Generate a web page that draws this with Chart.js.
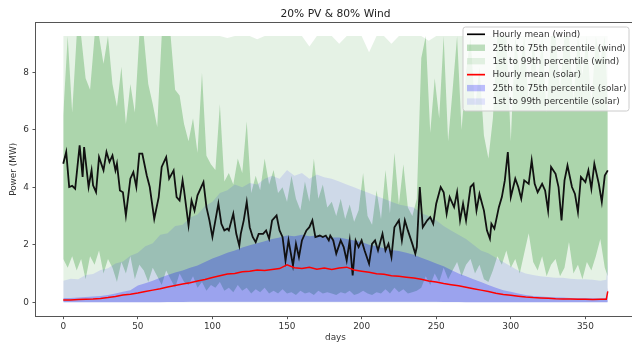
<!DOCTYPE html>
<html><head><meta charset="utf-8">
<script src="https://cdn.jsdelivr.net/npm/chart.js@4.4.1/dist/chart.umd.min.js"></script>
<style>html,body{margin:0;padding:0;background:#fff;overflow:hidden;width:632px;height:345px}canvas{display:block}</style>
</head><body>
<canvas id="c" width="640" height="345"></canvas>
<script>
const chartTitle = "20% PV & 80% Wind";
const xLabel = "days";
const yLabel = "Power (MW)";
const xTicks = [0,50,100,150,200,250,300,350];
const yTicks = [0,2,4,6,8];
const legendLabels = ["Hourly mean (wind)","25th to 75th percentile (wind)","1st to 99th percentile (wind)","Hourly mean (solar)","25th to 75th percentile (solar)","1st to 99th percentile (solar)"];

const windMeanDays = [
0,2,4,6,8,11,13,14,17,19,
20,22,24,27,29,31,33,35,36,38,
40,42,45,47,49,51,53,56,58,61,
64,66,69,71,74,76,78,80,81,84,
86,88,90,94,96,98,100,102,104,106,
108,110,111,114,116,118,119,121,123,125,
127,129,131,134,136,138,140,143,145,147,
149,151,154,156,158,160,163,165,167,169,
172,174,176,178,179,181,183,186,188,190,
192,194,196,198,200,202,205,207,209,211,
214,216,218,220,222,225,227,229,231,234,
236,237,239,241,244,246,248,250,253,255,
257,259,262,264,266,268,270,273,275,277,
279,282,284,286,287,289,292,294,296,298,
300,303,305,307,309,312,314,316,318,321,
323,325,327,330,332,334,336,338,341,343,
345,347,350,352,354,356,359,361,363,365];
const windMean = [
4.82,5.23,4.01,4.05,3.95,5.46,4.36,5.40,4.01,4.59,
4.07,3.83,5.05,4.59,5.23,4.88,5.11,4.59,4.82,3.89,
3.83,3.02,4.30,4.53,4.01,5.17,5.17,4.41,4.01,2.90,
3.66,4.71,5.05,4.30,4.59,3.66,3.54,4.24,3.89,2.67,
3.54,3.19,3.72,4.18,3.31,2.85,2.27,2.85,3.43,2.73,
2.50,2.56,2.50,3.08,2.38,1.97,2.38,2.85,3.49,2.61,
2.27,2.09,2.38,2.38,2.50,2.21,2.85,3.02,2.50,2.27,
1.45,2.15,1.28,2.03,1.57,2.15,2.50,2.61,2.85,2.27,
2.32,2.27,2.32,2.15,2.32,2.15,1.69,2.15,1.92,1.45,
2.15,0.93,2.15,1.92,2.15,1.80,1.34,2.03,2.15,1.80,
2.38,1.80,2.03,1.57,2.61,2.85,2.15,2.85,2.50,2.03,
1.69,1.92,4.01,2.61,2.85,2.96,2.73,3.43,4.01,3.83,
3.08,3.66,3.31,3.83,2.85,3.43,2.85,4.01,4.12,3.19,
3.77,3.19,2.50,2.21,2.73,2.56,3.31,3.66,4.24,5.23,
3.66,4.30,4.01,3.60,4.24,4.12,4.94,4.12,3.83,4.12,
3.89,3.19,4.71,4.47,4.01,2.85,4.24,4.76,4.01,3.77,
3.14,4.36,4.18,4.59,3.95,4.82,4.12,3.49,4.41,4.59];

const daysW3 = [
0,3,6,9,12,15,18,21,24,27,
30,33,36,39,42,45,48,51,54,57,
60,63,66,69,72,75,78,81,84,87,
90,93,96,99,102,105,108,111,114,117,
120,123,126,129,132,135,138,141,144,147,
150,153,156,159,162,165,168,171,174,177,
180,183,186,189,192,195,198,201,204,207,
210,213,216,219,222,225,228,231,234,237,
240,243,246,249,252,255,258,261,264,267,
270,273,276,279,282,285,288,291,294,297,
300,303,306,309,312,315,318,321,324,327,
330,333,336,339,342,345,348,351,354,357,
360,363,365];
const windP75 = [
6.5,9.27,6.6,9.27,9.27,7.8,7.4,9.27,9.27,8.3,
9.27,7.6,6.8,8.2,6.2,7.6,6.6,9.27,9.27,7.6,
6.9,6.1,9.27,9.27,9.27,7.4,7.2,6.2,5.6,6.4,
5.2,8.0,5.1,4.8,4.6,6.9,4.2,4.5,4.1,5.0,
4.5,6.3,3.8,4.4,3.9,5.0,4.1,4.6,3.8,4.0,
3.5,4.4,3.6,3.2,4.2,3.5,5.0,3.6,4.1,3.3,
3.5,3.0,3.6,2.9,3.4,2.8,3.2,4.5,3.0,2.7,
3.9,2.9,4.6,3.1,5.2,3.4,4.8,3.3,3.0,3.6,
8.5,9.27,5.9,7.8,6.4,9.27,5.6,7.4,9.27,6.0,
8.0,9.27,6.7,8.2,5.8,5.0,6.4,9.27,9.27,9.27,
5.6,9.27,8.0,9.27,6.9,9.27,7.5,9.27,6.6,9.27,
9.27,7.4,9.27,9.27,7.0,9.27,7.9,9.27,6.8,9.27,
8.4,9.27,7.0];
const windP25 = [
1.5,1.2,1.6,1.1,1.5,0.8,1.6,1.3,1.8,1.0,
1.5,1.2,0.7,1.4,1.0,1.6,0.8,1.3,1.1,0.7,
1.2,0.9,0.6,1.1,0.8,0.5,1.0,0.7,0.6,0.9,
0.5,0.7,0.4,0.6,0.5,0.7,0.4,0.5,0.35,0.6,
0.4,0.5,0.3,0.45,0.35,0.5,0.3,0.4,0.3,0.45,
0.3,0.35,0.25,0.4,0.3,0.35,0.25,0.4,0.3,0.35,
0.3,0.25,0.35,0.3,0.4,0.25,0.3,0.4,0.3,0.25,
0.35,0.3,0.45,0.3,0.5,0.35,0.45,0.3,0.35,0.4,
0.5,0.9,0.6,1.0,0.7,1.2,0.8,1.1,1.4,0.9,
1.3,1.5,1.0,1.3,0.8,0.7,1.1,1.6,1.3,1.8,
1.2,1.5,1.0,1.7,2.4,1.4,1.1,1.6,0.9,1.3,
1.5,0.9,1.2,2.1,1.0,1.3,0.8,1.4,1.1,1.6,
2.2,1.2,0.9];

const daysW5 = [
0,5,10,15,20,25,30,35,40,45,
50,55,60,65,70,75,80,85,90,95,
100,105,110,115,120,125,130,135,140,145,
150,155,160,165,170,175,180,185,190,195,
200,205,210,215,220,225,230,235,240,245,
250,255,260,265,270,275,280,285,290,295,
300,305,310,315,320,325,330,335,340,345,
350,355,360,365];
const windP99 = [
9.27,9.27,9.27,9.27,9.27,9.27,9.27,9.27,9.27,9.27,
9.27,9.27,9.27,9.27,9.27,9.27,9.27,9.27,9.27,9.27,
9.27,9.27,9.2,9.27,9.27,9.27,9.15,9.27,9.27,9.27,
9.27,9.27,9.27,8.9,9.27,9.27,9.27,9.0,9.27,9.27,
9.27,8.7,9.27,9.27,9.0,9.27,9.27,9.27,9.27,9.1,
9.27,9.27,9.27,9.27,9.27,9.27,9.27,9.27,9.27,9.27,
9.27,9.27,9.27,9.27,9.27,9.27,9.27,9.27,9.27,9.27,
9.27,9.27,9.27,9.27];
const windP1 = [
0,0,0,0,0,0,0,0,0,0,
0,0,0,0,0,0,0,0,0,0,
0,0,0,0,0,0,0,0,0,0,
0,0,0,0,0,0,0,0,0,0,
0,0,0,0,0,0,0,0,0,0,
0,0,0,0,0,0,0,0,0,0,
0,0,0,0,0,0,0,0,0,0,
0,0,0,0];

const daysS = [
0,5,10,15,20,25,30,35,40,45,
50,55,60,65,70,75,80,85,90,95,
100,105,110,115,120,125,130,135,140,145,
150,155,160,165,170,175,180,185,190,195,
200,205,210,215,220,225,230,235,240,245,
250,255,260,265,270,275,280,285,290,295,
300,305,310,315,320,325,330,335,340,345,
350,355,360,364,365];
const solarP99 = [
0.75,0.82,0.8,0.95,0.98,1.12,1.18,1.35,1.42,1.62,
1.72,1.95,2.05,2.35,2.4,2.65,2.7,2.95,3.05,3.35,
3.5,3.8,3.9,4.1,4.0,4.15,4.1,4.3,4.4,4.3,
4.6,4.4,4.5,4.3,4.45,4.35,4.3,4.2,4.1,4.0,
3.9,3.8,3.7,3.6,3.5,3.4,3.35,3.3,3.1,3.0,
2.85,2.65,2.5,2.35,2.2,2.0,1.8,1.7,1.55,1.4,
1.25,1.1,1.0,0.95,0.9,0.88,0.85,0.85,0.82,0.8,
0.8,0.78,0.75,0.78,1.6];
const solarP75 = [
0.15,0.15,0.16,0.18,0.2,0.22,0.25,0.3,0.36,0.42,
0.58,0.66,0.75,0.85,0.95,1.03,1.1,1.2,1.28,1.4,
1.52,1.62,1.72,1.8,1.9,1.98,2.05,2.12,2.2,2.25,
2.32,2.3,2.35,2.3,2.32,2.28,2.25,2.25,2.2,2.15,
2.1,2.0,1.95,1.88,1.82,1.78,1.72,1.65,1.55,1.45,
1.35,1.25,1.12,1.0,0.9,0.8,0.7,0.6,0.5,0.42,
0.36,0.3,0.25,0.22,0.2,0.18,0.17,0.16,0.15,0.15,
0.15,0.14,0.14,0.15,0.5];
const solarP25 = [
0,0,0,0,0,0,0,0,0,0,
0,0,0,0,0.01,0.01,0.01,0.02,0.02,0.02,
0.02,0.02,0.02,0.02,0.02,0.02,0.02,0.02,0.02,0.02,
0.02,0.02,0.02,0.02,0.02,0.02,0.02,0.02,0.02,0.02,
0.02,0.02,0.02,0.02,0.02,0.02,0.02,0.02,0.02,0.02,
0.02,0.01,0.01,0.01,0,0,0,0,0,0,
0,0,0,0,0,0,0,0,0,0,
0,0,0,0,0];
const solarP1 = [
0,0,0,0,0,0,0,0,0,0,
0,0,0,0,0,0,0,0,0,0,
0,0,0,0,0,0,0,0,0,0,
0,0,0,0,0,0,0,0,0,0,
0,0,0,0,0,0,0,0,0,0,
0,0,0,0,0,0,0,0,0,0,
0,0,0,0,0,0,0,0,0,0,
0,0,0,0,0];
const solarMean = [
0.08,0.08,0.09,0.10,0.11,0.13,0.16,0.20,0.25,0.28,
0.32,0.37,0.42,0.47,0.53,0.58,0.63,0.68,0.74,0.79,
0.86,0.92,0.98,1.00,1.06,1.08,1.12,1.10,1.14,1.17,
1.30,1.20,1.17,1.22,1.15,1.19,1.14,1.19,1.22,1.12,
1.08,1.04,0.99,0.97,0.92,0.90,0.87,0.84,0.80,0.74,
0.70,0.65,0.61,0.57,0.52,0.47,0.42,0.37,0.31,0.27,
0.24,0.21,0.18,0.16,0.15,0.14,0.12,0.11,0.11,0.10,
0.10,0.09,0.10,0.10,0.38];

const FONT = 'DejaVu Sans';
const cWind = 'rgba(0,128,0,0.25)', cWindL = 'rgba(0,128,0,0.1)';
const cSol = 'rgba(0,0,255,0.25)', cSolL = 'rgba(0,0,255,0.1)';

function pts(xs, ys){ return xs.map((x,i)=>({x:x, y:ys[i]})); }
const band = {pointRadius:0, pointHoverRadius:0, borderWidth:0, borderColor:'rgba(0,0,0,0)', tension:0};

const decor = {
  id:'decor',
  afterDraw(chart){
    const ctx = chart.ctx, a = chart.chartArea;
    ctx.save();
    ctx.strokeStyle = '#555'; ctx.lineWidth = 1;
    ctx.strokeRect(Math.round(a.left)-0.5, Math.round(a.top)-0.5, Math.round(a.right-a.left)+1, Math.round(a.bottom-a.top)+1);
    const cx = (a.left + a.right)/2;
    ctx.fillStyle = '#222'; ctx.textAlign='center'; ctx.textBaseline='middle';
    ctx.font = '10.7px "'+FONT+'"';
    ctx.fillText(chartTitle, cx, 14);
    ctx.fillStyle = '#333';
    ctx.font = '8.9px "'+FONT+'"';
    ctx.fillText(xLabel, cx, 338);
    ctx.save(); ctx.translate(13.5, (a.top+a.bottom)/2); ctx.rotate(-Math.PI/2);
    ctx.fillText(yLabel, 0, 0); ctx.restore();
    const bx=463, by=27, bw=166, bh=84, r=2.5;
    ctx.beginPath();
    ctx.moveTo(bx+r,by); ctx.lineTo(bx+bw-r,by); ctx.quadraticCurveTo(bx+bw,by,bx+bw,by+r);
    ctx.lineTo(bx+bw,by+bh-r); ctx.quadraticCurveTo(bx+bw,by+bh,bx+bw-r,by+bh);
    ctx.lineTo(bx+r,by+bh); ctx.quadraticCurveTo(bx,by+bh,bx,by+bh-r);
    ctx.lineTo(bx,by+r); ctx.quadraticCurveTo(bx,by,bx+r,by); ctx.closePath();
    ctx.fillStyle='rgba(255,255,255,0.8)'; ctx.fill();
    ctx.strokeStyle='#cccccc'; ctx.lineWidth=1; ctx.stroke();
    const kinds = [['line','#000000'],['patch',cWind],['patch',cWindL],['line','#ff0000'],['patch',cSol],['patch',cSolL]];
    ctx.textAlign='left'; ctx.textBaseline='middle'; ctx.font='8.9px "'+FONT+'"';
    for(let i=0;i<6;i++){
      const y = 34.3 + i*13.45;
      const k = kinds[i];
      if(k[0]==='line'){ ctx.strokeStyle=k[1]; ctx.lineWidth=1.7; ctx.beginPath(); ctx.moveTo(467,y); ctx.lineTo(485,y); ctx.stroke(); }
      else { ctx.fillStyle=k[1]; ctx.fillRect(467,y-3.2,18,6.4); }
      ctx.fillStyle='#333'; ctx.fillText(legendLabels[i], 492.5, y+0.5);
    }
    ctx.restore();
  }
};

const tickFont = {family:FONT, size:8.9};
new Chart(document.getElementById('c'), {
  type:'line',
  data:{datasets:[
    {label:'w1', data:pts(daysW5, windP1), ...band, fill:false, order:20},
    {label:legendLabels[2], data:pts(daysW5, windP99), ...band, backgroundColor:cWindL, fill:{target:0}, order:19},
    {label:'w25', data:pts(daysW3, windP25), ...band, fill:false, order:18},
    {label:legendLabels[1], data:pts(daysW3, windP75), ...band, backgroundColor:cWind, fill:{target:2}, order:17},
    {label:'s1', data:pts(daysS, solarP1), ...band, fill:false, order:16},
    {label:legendLabels[5], data:pts(daysS, solarP99), ...band, backgroundColor:cSolL, fill:{target:4}, order:15},
    {label:'s25', data:pts(daysS, solarP25), ...band, fill:false, order:14},
    {label:legendLabels[4], data:pts(daysS, solarP75), ...band, backgroundColor:cSol, fill:{target:6}, order:13},
    {label:legendLabels[0], data:pts(windMeanDays, windMean), pointRadius:0, borderColor:'#111111', borderWidth:1.8, fill:false, tension:0, order:2},
    {label:legendLabels[3], data:pts(daysS, solarMean), pointRadius:0, borderColor:'#ff0000', borderWidth:1.5, fill:false, tension:0, order:1}
  ]},
  options:{
    responsive:false, animation:false, devicePixelRatio:1,
    layout:{autoPadding:false, padding:{left:0, right:5, top:23, bottom:0}},
    plugins:{legend:{display:false}, tooltip:{enabled:false}, title:{display:false}},
    scales:{
      x:{type:'linear', min:-18.25, max:383.25,
         afterBuildTicks:s=>{s.ticks = xTicks.map(v=>({value:v}));},
         afterFit:s=>{s.height = 29.3;},
         ticks:{font:tickFont, color:'#333', padding:2, maxRotation:0, autoSkip:false, callback:v=>String(v)},
         grid:{display:true, drawOnChartArea:false, drawTicks:true, tickLength:3.5, color:'#555'},
         border:{display:false}},
      y:{type:'linear', min:-0.47, max:9.72,
         afterBuildTicks:s=>{s.ticks = yTicks.map(v=>({value:v}));},
         afterFit:s=>{s.width = 36;},
         ticks:{font:tickFont, color:'#333', padding:3.5, callback:v=>String(v)},
         grid:{display:true, drawOnChartArea:false, drawTicks:true, tickLength:3.5, color:'#555'},
         border:{display:false}}
    }
  },
  plugins:[decor]
});
</script>
</body></html>
